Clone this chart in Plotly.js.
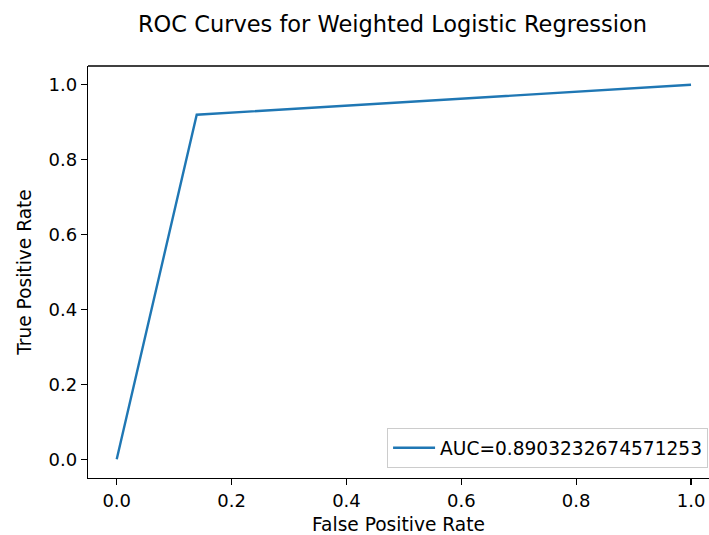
<!DOCTYPE html>
<html>
<head>
<meta charset="utf-8">
<script src="https://cdn.plot.ly/plotly-3.0.1.min.js"></script>
<style>html,body{margin:0;padding:0;background:#fff;}#chart{width:709px;height:535px;}</style>
</head>
<body>
<div id="chart"></div>
<script>
const fpr = [0.0, 0.1393, 1.0];
const tpr = [0.0, 0.9199, 1.0];
const seriesName = "AUC=0.8903232674571253";
const xTicks = [0.0, 0.2, 0.4, 0.6, 0.8, 1.0];
const yTicks = [0.0, 0.2, 0.4, 0.6, 0.8, 1.0];
const tickText = ["0.0", "0.2", "0.4", "0.6", "0.8", "1.0"];

const font = "DejaVu Sans, sans-serif";
const fs = 18.6;

const trace = {
  x: fpr, y: tpr, type: "scatter", mode: "lines", name: seriesName,
  line: {color: "#1f77b4", width: 2.4}
};

const layout = {
  width: 709, height: 535,
  margin: {l: 88, r: 0, t: 66, b: 57},
  paper_bgcolor: "#ffffff", plot_bgcolor: "#ffffff",
  font: {family: font, color: "#000000", size: fs},
  title: {text: "ROC Curves for Weighted Logistic Regression", font: {family: font, size: 22.5, color: "#000"},
          xref: "container", yref: "container", x: 392.5/709, xanchor: "center", y: 1 - 24/535, yanchor: "middle"},
  showlegend: true,
  legend: {x: 0.9985, xanchor: "right", y: 0.024, yanchor: "bottom", bgcolor: "rgba(255,255,255,0.8)",
           bordercolor: "#cccccc", borderwidth: 1, itemwidth: 42, font: {family: font, size: fs, color: "#000"}},
  xaxis: {
    range: [-0.05, 1.0313], tickvals: xTicks, ticktext: tickText, ticks: "outside", ticklen: 6, tickwidth: 1.3,
    tickcolor: "#000", showgrid: false, zeroline: false, showline: true, linecolor: "#000", linewidth: 1.3,
    mirror: false, tickfont: {family: font, size: 18, color: "#000"},
    title: {text: "False Positive Rate", font: {family: font, size: fs, color: "#000"}, standoff: 8}
  },
  yaxis: {
    range: [-0.05, 1.05], tickvals: yTicks, ticktext: tickText, ticks: "outside", ticklen: 6, tickwidth: 1.3,
    tickcolor: "#000", showgrid: false, zeroline: false, showline: true, linecolor: "#000", linewidth: 1.3,
    mirror: false, tickfont: {family: font, size: 18, color: "#000"},
    title: {text: "True Positive Rate", font: {family: font, size: fs, color: "#000"}, standoff: 12}
  },
  shapes: [{type: "line", xref: "paper", yref: "paper", x0: 0, x1: 1, y0: 1, y1: 1, line: {color: "#000", width: 1.3}}]
};

Plotly.newPlot("chart", [trace], layout, {displayModeBar: false, staticPlot: true});
</script>
</body>
</html>
